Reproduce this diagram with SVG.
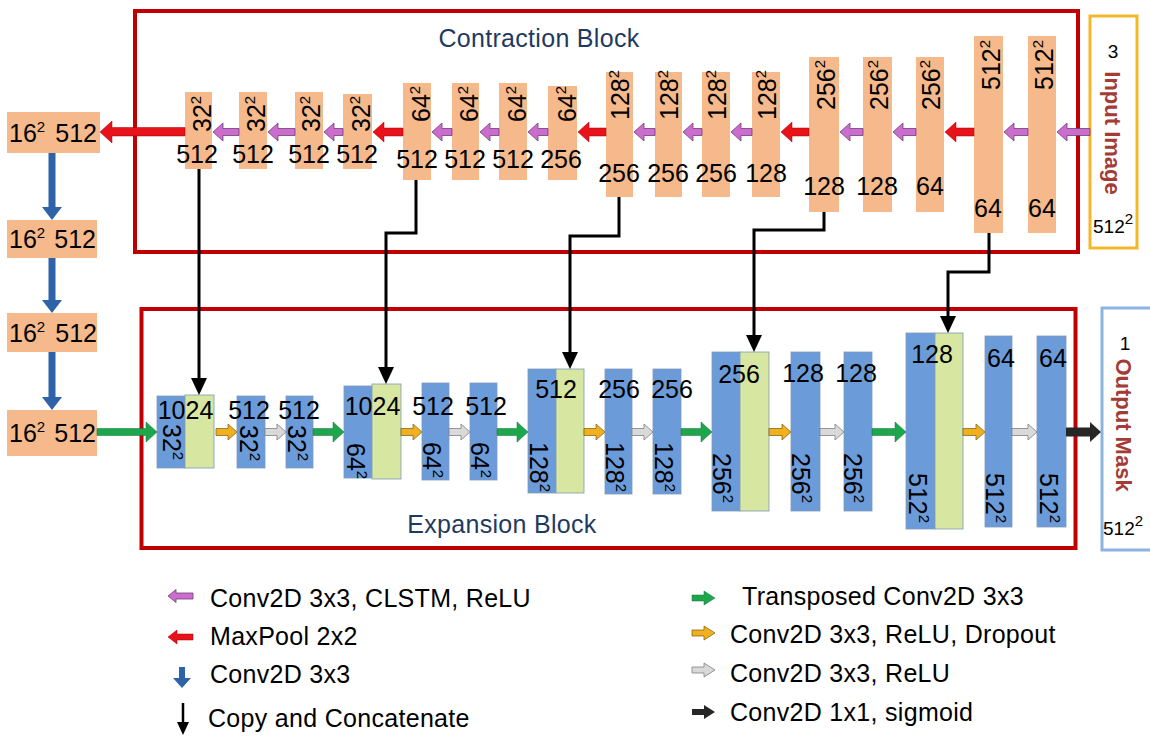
<svg xmlns="http://www.w3.org/2000/svg" width="1150" height="736" viewBox="0 0 1150 736">
  <style>
    text { font-family: "Liberation Sans", Arial, sans-serif; fill: #000; }
    .t { font-size: 25px; }
    .c { text-anchor: middle; }
    .sup { font-size: 15px; }
    .title { font-size: 25px; fill: #1F3A60; letter-spacing: 0.3px; }
    .io { font-size: 22px; font-weight: bold; fill: #A33B36; text-anchor: middle; }
    .small { font-size: 19px; }
    .leg { font-size: 25px; letter-spacing: 0.3px; }
    .frame { fill: none; stroke: #C00000; stroke-width: 4; }
    .enc { fill: #F5B98B; }
    .dec { fill: #6C9BD9; stroke: #7E9AB8; stroke-width: 0.8; }
    .cat { fill: #D7E6A1; stroke: #7E9AB8; stroke-width: 0.8; }
    .clstm { fill: #CC6CCC; stroke: #6B3F7A; stroke-width: 0.8; }
    .pool { fill: #E8121A; stroke: #A00000; stroke-width: 0.5; }
    .conv { fill: #2E63A8; }
    .up { fill: #1DA64B; stroke: #13703A; stroke-width: 0.5; }
    .drop { fill: #F2B01E; stroke: #7A5A10; stroke-width: 0.7; }
    .relu { fill: #D9D9D9; stroke: #7F7F7F; stroke-width: 0.8; }
    .sig { fill: #262626; }
    .skip { fill: none; stroke: #000; stroke-width: 3; marker-end: url(#head); }
  </style>
  <defs>
    <marker id="head" markerUnits="userSpaceOnUse" markerWidth="17" markerHeight="16" viewBox="0 0 17 16" refX="0" refY="8" orient="auto">
      <path d="M0,0 L17,8 L0,16 z" fill="#000"/>
    </marker>
  </defs>

  <rect width="1150" height="736" fill="#fff"/>

  <!-- block frames -->
  <rect class="frame" x="135" y="11" width="943" height="241"/>
  <rect class="frame" x="141.5" y="309" width="934" height="239"/>
  <text class="title c" x="539" y="47">Contraction Block</text>
  <text class="title c" x="502" y="533">Expansion Block</text>

  <!-- input / output -->
  <g id="input-image">
    <rect x="1090" y="16" width="47" height="232" fill="none" stroke="#F2B82A" stroke-width="3"/>
    <text class="small c" x="1113" y="58">3</text>
    <text class="io" transform="translate(1105,133) rotate(90)">Input Image</text>
    <text class="small" x="1093" y="233">512<tspan class="sup" dy="-9">2</tspan></text>
  </g>
  <g id="output-mask">
    <rect x="1102" y="308" width="60" height="242" fill="none" stroke="#8DB3E2" stroke-width="3"/>
    <text class="small c" x="1125" y="350">1</text>
    <text class="io" transform="translate(1116,425) rotate(90)">Output Mask</text>
    <text class="small" x="1103" y="535">512<tspan class="sup" dy="-9">2</tspan></text>
  </g>

  <!-- bottleneck column -->
  <g id="b1"><rect class="enc" x="7" y="112" width="93" height="41"/>
    <text class="t" x="9" y="142">16<tspan class="sup" dy="-10">2</tspan></text><text class="t" x="97" y="142" text-anchor="end">512</text></g>
  <g id="b2"><rect class="enc" x="7" y="220" width="90" height="38"/>
    <text class="t" x="9" y="248">16<tspan class="sup" dy="-10">2</tspan></text><text class="t" x="96" y="248" text-anchor="end">512</text></g>
  <g id="b3"><rect class="enc" x="7" y="313" width="90" height="39"/>
    <text class="t" x="9" y="342">16<tspan class="sup" dy="-10">2</tspan></text><text class="t" x="97" y="342" text-anchor="end">512</text></g>
  <g id="b4"><rect class="enc" x="7" y="410" width="90" height="46"/>
    <text class="t" x="9" y="442">16<tspan class="sup" dy="-10">2</tspan></text><text class="t" x="96" y="442" text-anchor="end">512</text></g>

  <!-- contraction path -->
  <g id="c1"><rect class="enc" x="185" y="92" width="27" height="77"/>
    <text class="t" transform="translate(211,132) rotate(-90)">32<tspan class="sup" dy="-10">2</tspan></text>
    <text class="t c" x="197" y="163">512</text></g>
  <g id="c2"><rect class="enc" x="239" y="92" width="28" height="77"/>
    <text class="t" transform="translate(265,132) rotate(-90)">32<tspan class="sup" dy="-10">2</tspan></text>
    <text class="t c" x="253" y="163">512</text></g>
  <g id="c3"><rect class="enc" x="295" y="92" width="28" height="77"/>
    <text class="t" transform="translate(320,132) rotate(-90)">32<tspan class="sup" dy="-10">2</tspan></text>
    <text class="t c" x="309" y="163">512</text></g>
  <g id="c4"><rect class="enc" x="343" y="94" width="29" height="75"/>
    <text class="t" transform="translate(370,132) rotate(-90)">32<tspan class="sup" dy="-10">2</tspan></text>
    <text class="t c" x="357" y="163">512</text></g>
  <g id="c5"><rect class="enc" x="403" y="83" width="28" height="97"/>
    <text class="t" transform="translate(430,122) rotate(-90)">64<tspan class="sup" dy="-10">2</tspan></text>
    <text class="t c" x="417" y="168">512</text></g>
  <g id="c6"><rect class="enc" x="452" y="83" width="27" height="97"/>
    <text class="t" transform="translate(478,122) rotate(-90)">64<tspan class="sup" dy="-10">2</tspan></text>
    <text class="t c" x="465" y="168">512</text></g>
  <g id="c7"><rect class="enc" x="499" y="83" width="28" height="97"/>
    <text class="t" transform="translate(526,122) rotate(-90)">64<tspan class="sup" dy="-10">2</tspan></text>
    <text class="t c" x="513" y="168">512</text></g>
  <g id="c8"><rect class="enc" x="548" y="86" width="29" height="94"/>
    <text class="t" transform="translate(576,122) rotate(-90)">64<tspan class="sup" dy="-10">2</tspan></text>
    <text class="t c" x="561" y="168">256</text></g>
  <g id="c9"><rect class="enc" x="606" y="72" width="27" height="125"/>
    <text class="t" transform="translate(629,120) rotate(-90)">128<tspan class="sup" dy="-10">2</tspan></text>
    <text class="t c" x="619" y="182">256</text></g>
  <g id="c10"><rect class="enc" x="655" y="72" width="27" height="125"/>
    <text class="t" transform="translate(678,120) rotate(-90)">128<tspan class="sup" dy="-10">2</tspan></text>
    <text class="t c" x="668" y="182">256</text></g>
  <g id="c11"><rect class="enc" x="702" y="72" width="28" height="125"/>
    <text class="t" transform="translate(726,120) rotate(-90)">128<tspan class="sup" dy="-10">2</tspan></text>
    <text class="t c" x="716" y="182">256</text></g>
  <g id="c12"><rect class="enc" x="752" y="72" width="28" height="125"/>
    <text class="t" transform="translate(776,120) rotate(-90)">128<tspan class="sup" dy="-10">2</tspan></text>
    <text class="t c" x="766" y="182">128</text></g>
  <g id="c13"><rect class="enc" x="809" y="57" width="30" height="155"/>
    <text class="t" transform="translate(835,110) rotate(-90)">256<tspan class="sup" dy="-10">2</tspan></text>
    <text class="t c" x="824" y="195">128</text></g>
  <g id="c14"><rect class="enc" x="863" y="57" width="29" height="155"/>
    <text class="t" transform="translate(888,110) rotate(-90)">256<tspan class="sup" dy="-10">2</tspan></text>
    <text class="t c" x="877" y="195">128</text></g>
  <g id="c15"><rect class="enc" x="916" y="57" width="28" height="155"/>
    <text class="t" transform="translate(940,110) rotate(-90)">256<tspan class="sup" dy="-10">2</tspan></text>
    <text class="t c" x="930" y="195">64</text></g>
  <g id="c16"><rect class="enc" x="974" y="36" width="29" height="197"/>
    <text class="t" transform="translate(1000,90) rotate(-90)">512<tspan class="sup" dy="-10">2</tspan></text>
    <text class="t c" x="988" y="217">64</text></g>
  <g id="c17"><rect class="enc" x="1028" y="36" width="28" height="197"/>
    <text class="t" transform="translate(1053,90) rotate(-90)">512<tspan class="sup" dy="-10">2</tspan></text>
    <text class="t c" x="1042" y="217">64</text></g>

  <!-- expansion path -->
  <g id="e1"><rect class="dec" x="157" y="396" width="28" height="72"/><rect class="cat" x="185" y="395" width="29" height="73"/>
    <text class="t c" x="185.5" y="419">1024</text>
    <text class="t" transform="translate(163,424) rotate(90)">32<tspan class="sup" dy="-10">2</tspan></text></g>
  <g id="e2"><rect class="dec" x="237" y="396" width="28" height="72"/>
    <text class="t c" x="249" y="419">512</text>
    <text class="t" transform="translate(240,425) rotate(90)">32<tspan class="sup" dy="-10">2</tspan></text></g>
  <g id="e3"><rect class="dec" x="286" y="396" width="27" height="72"/>
    <text class="t c" x="299" y="419">512</text>
    <text class="t" transform="translate(288,425) rotate(90)">32<tspan class="sup" dy="-10">2</tspan></text></g>
  <g id="e4"><rect class="dec" x="344" y="386" width="28" height="92"/><rect class="cat" x="372" y="384" width="29" height="95"/>
    <text class="t c" x="372.5" y="415">1024</text>
    <text class="t" transform="translate(347,443) rotate(90)">64<tspan class="sup" dy="-10">2</tspan></text></g>
  <g id="e5"><rect class="dec" x="422" y="383" width="27" height="97"/>
    <text class="t c" x="433" y="415">512</text>
    <text class="t" transform="translate(423,442) rotate(90)">64<tspan class="sup" dy="-10">2</tspan></text></g>
  <g id="e6"><rect class="dec" x="470" y="383" width="27" height="97"/>
    <text class="t c" x="486" y="415">512</text>
    <text class="t" transform="translate(471,442) rotate(90)">64<tspan class="sup" dy="-10">2</tspan></text></g>
  <g id="e7"><rect class="dec" x="528" y="369" width="28" height="124"/><rect class="cat" x="556" y="369" width="28" height="124"/>
    <text class="t c" x="556" y="398">512</text>
    <text class="t" transform="translate(530,442) rotate(90)">128<tspan class="sup" dy="-10">2</tspan></text></g>
  <g id="e8"><rect class="dec" x="605" y="369" width="27" height="125"/>
    <text class="t c" x="619" y="398">256</text>
    <text class="t" transform="translate(606,442) rotate(90)">128<tspan class="sup" dy="-10">2</tspan></text></g>
  <g id="e9"><rect class="dec" x="653" y="369" width="28" height="125"/>
    <text class="t c" x="672" y="398">256</text>
    <text class="t" transform="translate(655,442) rotate(90)">128<tspan class="sup" dy="-10">2</tspan></text></g>
  <g id="e10"><rect class="dec" x="712" y="352" width="28" height="159"/><rect class="cat" x="740" y="352" width="29" height="159"/>
    <text class="t c" x="739" y="383">256</text>
    <text class="t" transform="translate(713,453) rotate(90)">256<tspan class="sup" dy="-10">2</tspan></text></g>
  <g id="e11"><rect class="dec" x="791" y="352" width="29" height="159"/>
    <text class="t c" x="803" y="382">128</text>
    <text class="t" transform="translate(792,453) rotate(90)">256<tspan class="sup" dy="-10">2</tspan></text></g>
  <g id="e12"><rect class="dec" x="844" y="352" width="28" height="159"/>
    <text class="t c" x="856" y="382">128</text>
    <text class="t" transform="translate(844,453) rotate(90)">256<tspan class="sup" dy="-10">2</tspan></text></g>
  <g id="e13"><rect class="dec" x="906" y="333" width="29" height="196"/><rect class="cat" x="935" y="333" width="28" height="196"/>
    <text class="t c" x="932" y="363">128</text>
    <text class="t" transform="translate(909,473) rotate(90)">512<tspan class="sup" dy="-10">2</tspan></text></g>
  <g id="e14"><rect class="dec" x="985" y="336" width="27" height="191"/>
    <text class="t c" x="1001" y="367">64</text>
    <text class="t" transform="translate(986,473) rotate(90)">512<tspan class="sup" dy="-10">2</tspan></text></g>
  <g id="e15"><rect class="dec" x="1037" y="336" width="29" height="191"/>
    <text class="t c" x="1053" y="367">64</text>
    <text class="t" transform="translate(1040,473) rotate(90)">512<tspan class="sup" dy="-10">2</tspan></text></g>

  <!-- connectors -->
  <g id="connectors">
    <!-- contraction: conv + CLSTM + ReLU -->
    <polygon class="clstm" points="1057,132 1067,123 1067,128.5 1090,128.5 1090,135.5 1067,135.5 1067,141"/>
    <polygon class="clstm" points="1004,132 1014,123 1014,128.5 1028,128.5 1028,135.5 1014,135.5 1014,141"/>
    <polygon class="clstm" points="893,132 903,123 903,128.5 916,128.5 916,135.5 903,135.5 903,141"/>
    <polygon class="clstm" points="840,132 850,123 850,128.5 863,128.5 863,135.5 850,135.5 850,141"/>
    <polygon class="clstm" points="731,132 741,123 741,128.5 752,128.5 752,135.5 741,135.5 741,141"/>
    <polygon class="clstm" points="683,132 693,123 693,128.5 702,128.5 702,135.5 693,135.5 693,141"/>
    <polygon class="clstm" points="634,132 644,123 644,128.5 655,128.5 655,135.5 644,135.5 644,141"/>
    <polygon class="clstm" points="528,132 538,123 538,128.5 548,128.5 548,135.5 538,135.5 538,141"/>
    <polygon class="clstm" points="480,132 490,123 490,128.5 499,128.5 499,135.5 490,135.5 490,141"/>
    <polygon class="clstm" points="432,132 442,123 442,128.5 452,128.5 452,135.5 442,135.5 442,141"/>
    <polygon class="clstm" points="324,132 334,123 334,128.5 343,128.5 343,135.5 334,135.5 334,141"/>
    <polygon class="clstm" points="268,132 278,123 278,128.5 295,128.5 295,135.5 278,135.5 278,141"/>
    <polygon class="clstm" points="213,132 223,123 223,128.5 239,128.5 239,135.5 223,135.5 223,141"/>
    <!-- max pooling -->
    <polygon class="pool" points="945,132 956,122 956,128 974,128 974,136 956,136 956,142"/>
    <polygon class="pool" points="781,132 792,122 792,128 809,128 809,136 792,136 792,142"/>
    <polygon class="pool" points="578,132 589,122 589,128 606,128 606,136 589,136 589,142"/>
    <polygon class="pool" points="373,132 384,122 384,128 403,128 403,136 384,136 384,142"/>
    <polygon class="pool" points="100,132 112,121 112,127.5 185,127.5 185,136 112,136 112,143"/>
    <!-- bottleneck convolutions -->
    <polygon class="conv" points="48.5,153 55.5,153 55.5,207 62,207 52,220 42,207 48.5,207"/>
    <polygon class="conv" points="48.5,258 55.5,258 55.5,300 62,300 52,313 42,300 48.5,300"/>
    <polygon class="conv" points="48.5,352 55.5,352 55.5,397 62,397 52,410 42,397 48.5,397"/>
    <!-- transposed convolutions -->
    <polygon class="up" points="97,428.5 146,428.5 146,422 157,432 146,442 146,435.5 97,435.5"/>
    <polygon class="up" points="313,428.5 333,428.5 333,422 344,432 333,442 333,435.5 313,435.5"/>
    <polygon class="up" points="497,428.5 517,428.5 517,422 528,432 517,442 517,435.5 497,435.5"/>
    <polygon class="up" points="681,428.5 701,428.5 701,422 712,432 701,442 701,435.5 681,435.5"/>
    <polygon class="up" points="872,428.5 895,428.5 895,422 906,432 895,442 895,435.5 872,435.5"/>
    <!-- conv + ReLU + dropout -->
    <polygon class="drop" points="216,428.5 228,428.5 228,424 237,432 228,440 228,435.5 216,435.5"/>
    <polygon class="drop" points="401,428.5 413,428.5 413,424 422,432 413,440 413,435.5 401,435.5"/>
    <polygon class="drop" points="584,428.5 596,428.5 596,424 605,432 596,440 596,435.5 584,435.5"/>
    <polygon class="drop" points="769,428.5 782,428.5 782,424 791,432 782,440 782,435.5 769,435.5"/>
    <polygon class="drop" points="963,428.5 976,428.5 976,424 985,432 976,440 976,435.5 963,435.5"/>
    <!-- conv + ReLU -->
    <polygon class="relu" points="265,428.5 277,428.5 277,424 286,432 277,440 277,435.5 265,435.5"/>
    <polygon class="relu" points="449,428.5 461,428.5 461,424 470,432 461,440 461,435.5 449,435.5"/>
    <polygon class="relu" points="632,428.5 644,428.5 644,424 653,432 644,440 644,435.5 632,435.5"/>
    <polygon class="relu" points="820,428.5 835,428.5 835,424 844,432 835,440 835,435.5 820,435.5"/>
    <polygon class="relu" points="1012,428.5 1028,428.5 1028,424 1037,432 1028,440 1028,435.5 1012,435.5"/>
    <!-- 1x1 sigmoid -->
    <polygon class="sig" points="1066,427.5 1090,427.5 1090,422 1101,432 1090,442 1090,436.5 1066,436.5"/>
    <!-- skip connections -->
    <path class="skip" d="M199,169 V378"/>
    <path class="skip" d="M416,180 V233 H386 V367"/>
    <path class="skip" d="M619,197 V236 H570 V352"/>
    <path class="skip" d="M824,212 V230 H754 V335"/>
    <path class="skip" d="M989,233 V272 H948 V316"/>
  </g>

  <!-- legend -->
  <g id="legend">
    <polygon class="clstm" points="168,596 176,589.5 176,593 193,593 193,599 176,599 176,602.5"/>
    <text class="leg" x="210" y="607">Conv2D 3x3, CLSTM, ReLU</text>
    <polygon class="pool" points="168,637 177,630 177,634 193,634 193,640 177,640 177,644"/>
    <text class="leg" x="210" y="645">MaxPool 2x2</text>
    <polygon class="conv" points="179,667 185,667 185,678 191,678 182,688 173,678 179,678"/>
    <text class="leg" x="210" y="683">Conv2D 3x3</text>
    <line x1="183" y1="703" x2="183" y2="723" stroke="#000" stroke-width="2.5"/>
    <polygon points="177,722 189,722 183,735" fill="#000"/>
    <text class="leg" x="208" y="727">Copy and Concatenate</text>

    <polygon class="up" points="692,595 704,595 704,591 715,598 704,605 704,601 692,601"/>
    <text class="leg" x="742" y="605">Transposed Conv2D 3x3</text>
    <polygon class="drop" points="692,630 704,630 704,626 715,633 704,640 704,636 692,636"/>
    <text class="leg" x="730" y="643">Conv2D 3x3, ReLU, Dropout</text>
    <polygon class="relu" points="692,667 704,667 704,663 715,670 704,677 704,673 692,673"/>
    <text class="leg" x="730" y="682">Conv2D 3x3, ReLU</text>
    <polygon class="sig" points="692,709 704,709 704,705 715,712 704,719 704,715 692,715"/>
    <text class="leg" x="730" y="721">Conv2D 1x1, sigmoid</text>
  </g>
</svg>
